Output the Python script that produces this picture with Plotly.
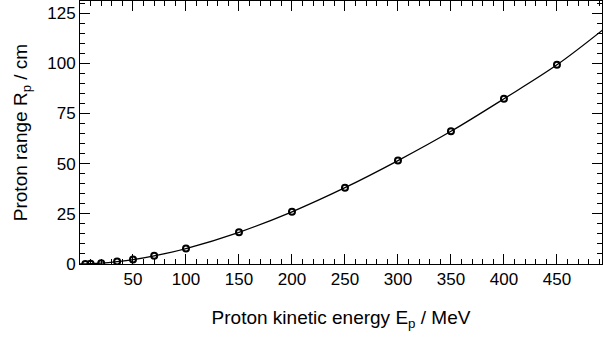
import plotly.graph_objects as go

# Measured points (proton kinetic energy in MeV, range in cm)
energy_pts = [5, 10, 20, 35, 50, 70, 100, 150, 200, 250, 300, 350, 400, 450]
range_pts = [0.04, 0.12, 0.43, 1.2, 2.2, 4.1, 7.7, 15.8, 26.0, 38.0, 51.5, 66.1, 82.3, 99.2]

# Fitted curve
energy_fit = [0, 5, 10, 20, 35, 50, 70, 100, 150, 200, 250, 300, 350, 400, 450, 493]
range_fit = [0, 0.04, 0.12, 0.43, 1.2, 2.2, 4.1, 7.7, 15.8, 26.0, 38.0, 51.5, 66.1, 82.3, 99.2, 116.5]

x_ticks = [50, 100, 150, 200, 250, 300, 350, 400, 450]
y_ticks = [0, 25, 50, 75, 100, 125]

fig = go.Figure()
fig.add_trace(go.Scatter(x=energy_fit, y=range_fit, mode="lines",
                         line=dict(color="black", width=1.3, shape="spline"),
                         showlegend=False, hoverinfo="skip"))
fig.add_trace(go.Scatter(x=energy_pts, y=range_pts, mode="markers",
                         marker=dict(symbol="circle-open", size=6, color="black",
                                     line=dict(width=2, color="black")),
                         showlegend=False))

font = dict(family="Liberation Sans, Arial, sans-serif", size=16, color="black")
tickfont = dict(family="Liberation Sans, Arial, sans-serif", size=17, color="black")
fig.update_layout(
    width=603, height=339,
    margin=dict(l=80, r=1, t=1, b=75),
    paper_bgcolor="white", plot_bgcolor="white",
    font=font,
    xaxis=dict(range=[0, 492.5], tickvals=x_ticks, ticks="inside", ticklen=10,
               tickwidth=1, tickcolor="black", showline=True, linecolor="black",
               linewidth=1, mirror="ticks", showgrid=False, zeroline=False,
               minor=dict(dtick=10, tick0=0, ticks="inside", ticklen=5,
                          tickcolor="black", showgrid=False),
               title=dict(text="Proton kinetic energy E<sub>p</sub> / MeV", standoff=22),
               tickfont=tickfont),
    yaxis=dict(range=[0, 131], tickvals=y_ticks, ticks="inside", ticklen=10,
               tickwidth=1, tickcolor="black", showline=True, linecolor="black",
               linewidth=1, mirror="ticks", showgrid=False, zeroline=False,
               minor=dict(dtick=5, tick0=0, ticks="inside", ticklen=5,
                          tickcolor="black", showgrid=False),
               title=dict(text="Proton range R<sub>p</sub> / cm", standoff=14),
               tickfont=tickfont),
)
fig.write_html("out.html")
